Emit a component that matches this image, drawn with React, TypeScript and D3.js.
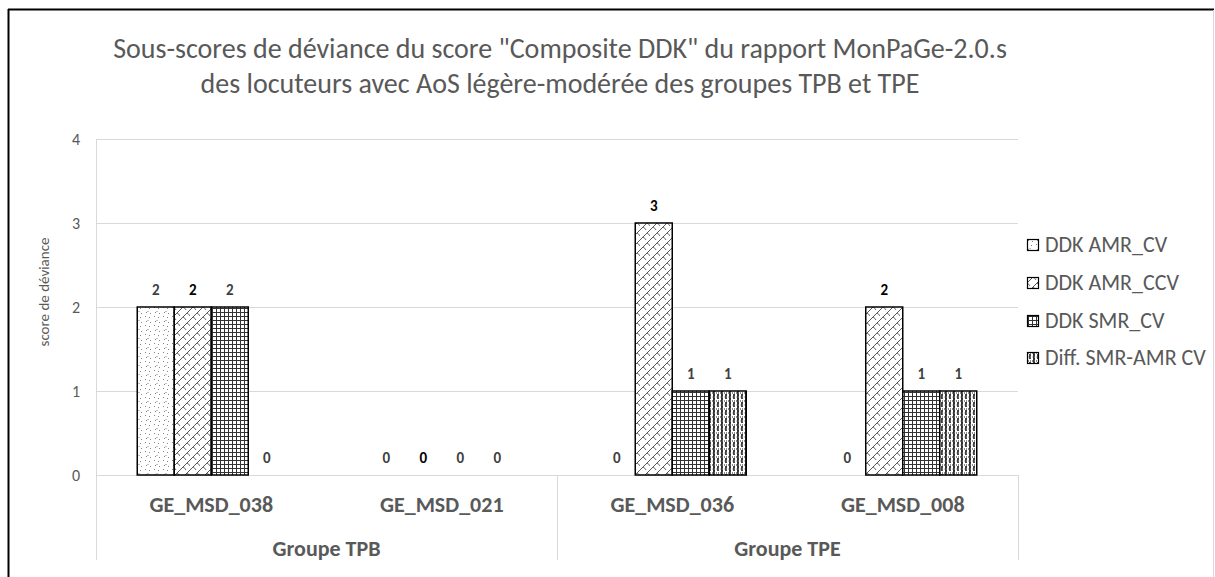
import React from "react";
import * as d3 from "d3";

const categories = ["GE_MSD_038", "GE_MSD_021", "GE_MSD_036", "GE_MSD_008"];
const groups = [
  { name: "Groupe TPB", members: ["GE_MSD_038", "GE_MSD_021"] },
  { name: "Groupe TPE", members: ["GE_MSD_036", "GE_MSD_008"] },
];
const seriesNames = ["DDK AMR_CV", "DDK AMR_CCV", "DDK SMR_CV", "Diff. SMR-AMR CV"];
const ddkAmrCv = [2, 0, 0, 0];
const ddkAmrCcv = [2, 0, 3, 2];
const ddkSmrCv = [2, 0, 1, 1];
const diffSmrAmrCv = [0, 0, 1, 1];
const seriesValues = [ddkAmrCv, ddkAmrCcv, ddkSmrCv, diffSmrAmrCv];
const yTicks = [0, 1, 2, 3, 4];
const titleLines = [
  'Sous-scores de déviance du score "Composite DDK" du rapport MonPaGe-2.0.s',
  "des locuteurs avec AoS légère-modérée des groupes TPB et TPE",
];
const yAxisTitle = "score de déviance";

const FONT = "Carlito, 'Liberation Sans', Arial, sans-serif";
const GRAY = "#595959";
const GRID = "#d9d9d9";

const W = 1215;
const H = 577;
const plotLeft = 96;
const plotRight = 1018;
const plotTop = 139;
const plotBottom = 475;

const patternIds = ["pat-confetti", "pat-zigzag", "pat-grid", "pat-plaid"];

function Patterns() {
  return (
    <defs>
      <pattern id="pat-confetti" patternUnits="userSpaceOnUse" width="9" height="9">
        <rect width="9" height="9" fill="#fff" />
        <path d="M1 1 l1 1 M5 3 l1 -1 M2 6 l1 1 M7 7 l-1 1 M4 5 l0 1" stroke="#777" strokeWidth="0.9" />
      </pattern>
      <pattern id="pat-zigzag" patternUnits="userSpaceOnUse" width="10" height="10">
        <rect width="10" height="10" fill="#fff" />
        <path d="M0 10 L10 0 M-1 1 L1 -1 M9 11 L11 9" stroke="#444" strokeWidth="0.9" fill="none" />
        <path d="M3 7 q2 1 3 3 M7 3 q2 1 3 3" stroke="#444" strokeWidth="0.8" fill="none" />
      </pattern>
      <pattern id="pat-grid" patternUnits="userSpaceOnUse" width="4" height="4">
        <rect width="4" height="4" fill="#fff" />
        <path d="M0.5 0 V4 M0 0.5 H4" stroke="#333" strokeWidth="1" />
      </pattern>
      <pattern id="pat-plaid" patternUnits="userSpaceOnUse" width="8" height="8">
        <rect width="8" height="8" fill="#fff" />
        <rect x="1" y="0" width="2" height="8" fill="#333" />
        <rect x="5" y="2" width="2" height="5" fill="#444" />
        <path d="M0 1 H8" stroke="#666" strokeWidth="1.6" strokeDasharray="1 1" />
        <path d="M0 5 H8" stroke="#999" strokeWidth="0.8" strokeDasharray="1 1" />
      </pattern>
    </defs>
  );
}

export default function App() {
  React.useEffect(() => {
    document.body.style.margin = "0";
  }, []);

  const x = d3.scaleBand<string>().domain(categories).range([plotLeft, plotRight]).paddingInner(0).paddingOuter(0);
  const step = x.bandwidth();
  const barsWidth = 148;
  const inner = d3
    .scaleBand<number>()
    .domain(d3.range(seriesNames.length))
    .range([(step - barsWidth) / 2, (step + barsWidth) / 2]);
  const y = d3.scaleLinear().domain([0, 4]).range([plotBottom, plotTop]);

  const legendY = [245, 283, 321, 358];

  return (
    <svg width={W} height={H} style={{ display: "block", position: "absolute", left: 0, top: 0 }} fontFamily={FONT}>
      <Patterns />
      <rect width={W} height={H} fill="#fff" />
      {/* frame */}
      <line x1={8} x2={1214} y1={9.5} y2={9.5} stroke="#000" strokeWidth={2} />
      <line x1={8.5} x2={8.5} y1={9} y2={H} stroke="#000" strokeWidth={2} />
      <line x1={1213.5} x2={1213.5} y1={10} y2={H} stroke={GRID} strokeWidth={1} />

      {/* title */}
      {titleLines.map((t, i) => (
        <text key={i} x={560} y={58 + i * 35} textAnchor="middle" fontSize={28} fill={GRAY}>
          {t}
        </text>
      ))}

      {/* gridlines */}
      {yTicks.map((t) => (
        <line key={t} x1={plotLeft} x2={plotRight} y1={Math.round(y(t)) + 0.5} y2={Math.round(y(t)) + 0.5} stroke={GRID} strokeWidth={1} />
      ))}
      {yTicks.map((t) => (
        <text key={"l" + t} x={80} y={y(t) + 5.5} textAnchor="end" fontSize={16} fill={GRAY}>
          {t}
        </text>
      ))}
      <text transform={`translate(49,292) rotate(-90)`} textAnchor="middle" fontSize={15} fill={GRAY}>
        {yAxisTitle}
      </text>

      {/* category axis separators */}
      <line x1={plotLeft + 0.5} x2={plotLeft + 0.5} y1={plotTop} y2={560} stroke={GRID} />
      {groups.map((g) => {
        const gx = (x(g.members[g.members.length - 1]) as number) + step;
        return <line key={g.name} x1={Math.round(gx) + 0.5} x2={Math.round(gx) + 0.5} y1={plotBottom} y2={560} stroke={GRID} />;
      })}
      {categories.map((c) => (
        <text key={c} x={(x(c) as number) + step / 2} y={512} textAnchor="middle" fontSize={22} fontWeight="bold" fill={GRAY}>
          {c}
        </text>
      ))}
      {groups.map((g) => {
        const gx0 = x(g.members[0]) as number;
        const gx1 = (x(g.members[g.members.length - 1]) as number) + step;
        return (
          <text key={g.name} x={(gx0 + gx1) / 2} y={556} textAnchor="middle" fontSize={22} fontWeight="bold" fill={GRAY}>
            {g.name}
          </text>
        );
      })}

      {/* bars */}
      {categories.map((c, ci) =>
        seriesValues.map((vals, si) => {
          const v = vals[ci];
          const bx = (x(c) as number) + (inner(si) as number);
          const bw = inner.bandwidth();
          return (
            <g key={c + si}>
              {v > 0 && (
                <rect x={bx} y={y(v)} width={bw} height={y(0) - y(v)} fill={`url(#${patternIds[si]})`} stroke="#000" strokeWidth={1.5} />
              )}
              <text
                x={bx + bw / 2}
                y={y(v) - 12}
                textAnchor="middle"
                fontSize={15}
                fontWeight="bold"
                fill={si === 1 ? "#000" : "#404040"}
              >
                {v}
              </text>
            </g>
          );
        })
      )}

      {/* legend */}
      {seriesNames.map((s, i) => (
        <g key={s}>
          <rect x={1027.5} y={legendY[i] - 5.5} width={11} height={11} fill={`url(#${patternIds[i]})`} stroke="#000" strokeWidth={1.2} />
          <text x={1045} y={legendY[i] + 7} fontSize={22} fill={GRAY}>
            {s}
          </text>
        </g>
      ))}
    </svg>
  );
}
